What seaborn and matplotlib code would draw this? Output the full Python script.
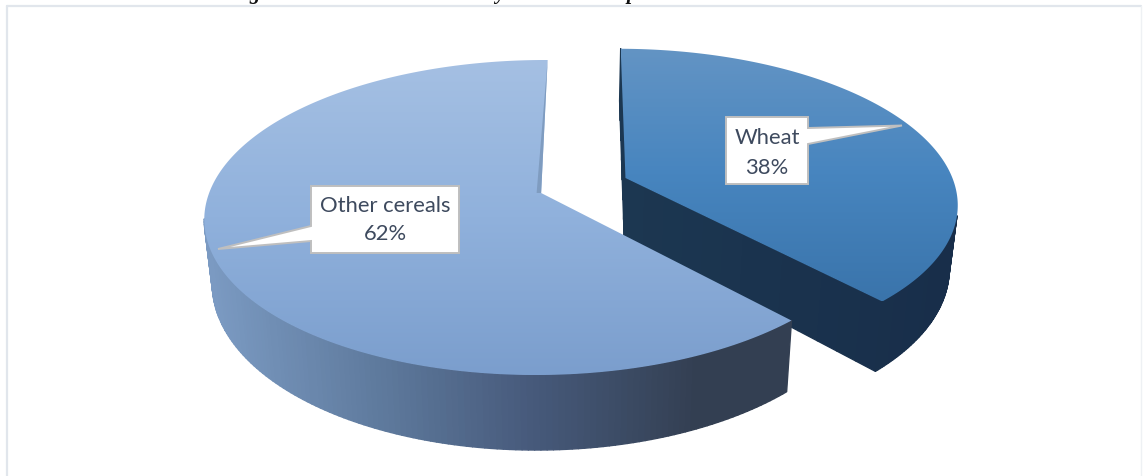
import numpy as np
import seaborn as sns
import matplotlib.pyplot as plt
from matplotlib.collections import PolyCollection
from matplotlib.patches import Polygon

categories = ['Wheat', 'Other cereals']
shares = [38, 62]
explode = [0.275, 0]

# gradients
wheat_top = ['#6394c4', '#4785bf', '#3a74ab']
wheat_side = ['#1c3751', '#182e4a']
other_top = ['#a5c0e3', '#90b1dc', '#7b9ecd']
other_side = ['#7b9ac2', '#5f7b9e', '#46597a', '#333f52']
box_edge = '#bfbfbf'
text_col = '#3e4a5e'

# perspective of the tilted disc, pixels
X0, Y0, R, H, K = 571, 193, 332, 153.7, 0.1556
SIDE_SCALE, SIDE_Y0, SIDE_SLOPE = 0.978, 236, 1.07


def project(u, v):
    s = 1 / (1 + K * v)
    return X0 + R * u * s, Y0 - H * v * s


def lower(x, y):
    return X0 + SIDE_SCALE * (x - X0), SIDE_Y0 + SIDE_SLOPE * (y - 175)


def outline(wedge):
    t = np.linspace(wedge.theta1, wedge.theta2, 240)
    cx, cy = wedge.center
    arc = project(cx + np.cos(np.radians(t)), cy + np.sin(np.radians(t)))
    mid = project(cx, cy)
    return np.asarray(arc).T, np.asarray(mid), t


def side_quads(ax, pts, cmap, xmin, xmax):
    quads = []
    cols = []
    for a, b in zip(pts[:-1], pts[1:]):
        la = lower(*a)
        lb = lower(*b)
        quads.append([a, b, lb, la])
        cols.append(cmap((np.clip((a[0] + b[0]) / 2, xmin, xmax) - xmin) / (xmax - xmin)))
    ax.add_collection(PolyCollection(quads, facecolors=cols, edgecolors=cols, linewidths=1.0))


def top_face(ax, arc, mid, cmap):
    poly = Polygon(np.vstack([mid, arc]), closed=True, facecolor='none', edgecolor='none')
    ax.add_patch(poly)
    ys = arc[:, 1]
    grad = np.linspace(0, 1, 256).reshape(-1, 1)
    im = ax.imshow(grad, extent=(arc[:, 0].min(), arc[:, 0].max(), ys.max(), ys.min()),
                   cmap=cmap, aspect='auto', origin='upper', zorder=2)
    im.set_clip_path(poly)


def callout(ax, box, base, tip, lines, ys):
    x0, x1, y0, y1 = box
    if tip[0] > x1:
        pts = [(x0, y0), (x1, y0), (x1, base[0]), tip, (x1, base[1]), (x1, y1), (x0, y1)]
    else:
        pts = [(x0, y0), (x1, y0), (x1, y1), (x0, y1), (x0, base[1]), tip, (x0, base[0])]
    ax.add_patch(Polygon(pts, closed=True, facecolor='white', edgecolor=box_edge,
                         linewidth=1.4, joinstyle='miter', zorder=5))
    for line, y in zip(lines, ys):
        ax.text((x0 + x1) / 2, y, line, ha='center', va='center', fontsize=15.8,
                color=text_col, family='Lato', zorder=6)


sns.set_theme(style='white')
fig = plt.figure(figsize=(11.48, 4.76), dpi=100)
ax = fig.add_axes([0, 0, 1, 1])

wedges, _ = ax.pie(shares, startangle=89.5, counterclock=False, explode=explode, center=(-0.09, 0))
wheat, other = wedges
wheat_arc, wheat_mid, wheat_t = outline(wheat)
other_arc, other_mid, other_t = outline(other)
wheat.remove()
other.remove()

ax.set_aspect('auto')
ax.set_xlim(0, 1148)
ax.set_ylim(476, 0)
ax.set_xticks([])
ax.set_yticks([])
ax.set_frame_on(False)

# wheat slice: sides first, then the face. only the front of the rim shows
side_cmap = sns.blend_palette(wheat_side, as_cmap=True)
side_quads(ax, np.linspace(wheat_arc[-1], wheat_mid, 8), side_cmap, 627, 950)
side_quads(ax, np.linspace(wheat_mid, wheat_arc[0], 14), side_cmap, 627, 950)
side_quads(ax, wheat_arc[wheat_t < -14], side_cmap, 627, 950)
top_face(ax, wheat_arc, wheat_mid, sns.blend_palette(wheat_top, as_cmap=True))

# other cereals
side_cmap = sns.blend_palette(other_side, as_cmap=True)
side_quads(ax, other_arc[other_t > -171], side_cmap, 210, 700)
top_face(ax, other_arc, other_mid, sns.blend_palette(other_top, as_cmap=True))
ax.add_patch(Polygon([other_arc[0], other_mid, (other_mid[0] - 4.5, other_mid[1])], closed=True,
                     facecolor='#7f9cc0', edgecolor='none', zorder=3))

callout(ax, (726, 808, 117, 184), (128, 144), (902, 125.5),
        [f'{categories[0]}', f'{shares[0]}%'], (138, 168))
callout(ax, (311, 459, 186, 253), (226, 241), (218, 249),
        [f'{categories[1]}', f'{shares[1]}%'], (206, 234))

# frame of the pasted chart
ax.plot([7, 7], [476, 5.5], color='#e1e6ec', lw=1.6, zorder=1)
ax.plot([7, 1141], [5.5, 5.5], color='#e1e6ec', lw=1.6, zorder=1)
ax.plot([1141, 1141], [5.5, 476], color='#eef1f4', lw=1, zorder=1)

# caption above is cut by the crop, only the descenders are left
for x, ch in [(255, 'g'), (500, 'y'), (632, 'p')]:
    ax.text(x, -1, ch, ha='center', va='baseline', fontsize=15, style='italic', weight='bold',
            family='Liberation Serif', color='#111111', clip_on=False)

fig.savefig('out.png', dpi=100)
